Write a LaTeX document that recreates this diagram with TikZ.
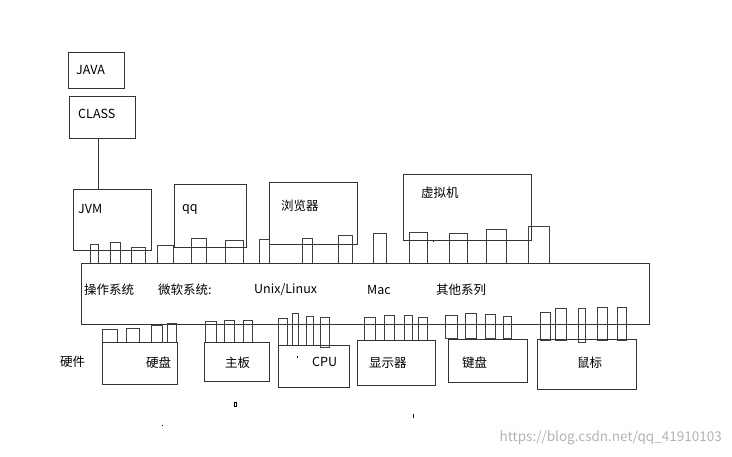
\documentclass[tikz,border=0pt]{standalone}
\usepackage{fontspec}
\setmainfont{Noto Sans CJK SC}
\begin{document}
\begin{tikzpicture}[x=1pt,y=-1pt,
  bx/.style={draw=black!80,line width=0.8pt},
  pin/.style={draw=black!75,line width=0.8pt},
  lb/.style={font=\fontsize{12.5}{14}\selectfont,inner sep=0pt,anchor=west}]
\useasboundingbox (0,0) rectangle (732,457);
% upper boxes
\draw[bx] (68,52) rectangle (124,88);
\draw[bx] (69,96) rectangle (135,138);
\coordinate (ct) at (98,138); \coordinate (cb) at (98,189);
\draw[bx] (ct) -- (cb);
\draw[bx] (73,189) rectangle (151,250);
\draw[bx] (174,184) rectangle (246,247);
\draw[bx] (269,182) rectangle (357,244);
\draw[bx] (403,174) rectangle (531,240);
% top pins
\foreach \a/\b/\t in {90/98/244,110/120/242,131/145/247,157/173/245,191/206/238,225/243/240,259/269/239,302/312/238,338/352/235,373/386/233,409/427/232,449/467/233,486/506/229,528/549/226}
  \draw[pin] (\a,263) rectangle (\b,\t);
% main box
\draw[bx,fill=white] (81,263) rectangle (649,324);
% bottom pins
\foreach \a/\b/\t/\u in {102/117/329/342,126/139/328/342,151/162/325/342,167/176/323/342,205/216/321/342,224/234/320/342,243/252/320/342,278/287/318/345,292/298/313/345,306/313/316/345,320/329/317/347,364/375/317/340,384/394/315/340,404/412/315/340,418/427/317/340,445/457/315/338,465/476/313/338,485/495/314/338,503/511/316/338,540/550/312/340,555/566/308/340,578/585/308/342,597/607/307/340,617/626/307/340}
  \draw[pin] (\a,\u) rectangle (\b,\t);
% bottom boxes
\draw[bx] (102,342) rectangle (177,384);
\draw[bx] (204,342) rectangle (269,381);
\draw[bx] (278,345) rectangle (349,387);
\draw[bx] (357,340) rectangle (435,385);
\draw[bx] (448,339) rectangle (527,382);
\draw[bx] (537,339) rectangle (636,389);
% labels
\node[lb] (t1) at (76,70) {JAVA};
\node[lb] (t2) at (78,114) {CLASS};
\node[lb] (t3) at (78,209) {JVM};
\node[lb] (t4) at (182,209) {qq};
\node[lb] (t5) at (281,206) {浏览器};
\node[lb] (t6) at (421,193) {虚拟机};
\node[lb] (m1) at (84,290) {操作系统};
\node[lb] (m2) at (158,290) {微软系统:};
\node[lb] (m3) at (254,290) {Unix/Linux};
\node[lb] (m4) at (367,290) {Mac};
\node[lb] (m5) at (436,290) {其他系列};
\node[lb] (h0) at (60,362) {硬件};
\node[lb] (h1) at (146,363) {硬盘};
\node[lb] (h2) at (225,363) {主板};
\node[lb] (h3) at (312,362) {CPU};
\node[lb] (h4) at (369,363) {显示器};
\node[lb] (h5) at (462,363) {键盘};
\node[lb] (h6) at (577,363) {鼠标};
% stray marks
\fill (296.5,356.5) rectangle (298,358);
\fill (432.5,241.5) rectangle (433.5,242.5);
\draw[line width=0.6pt] (234,402.5) rectangle (236.5,406);
\fill (412.5,414) rectangle (413.5,418);
\fill (161.5,425.5) rectangle (162.5,426.5);
\node[lb,text=black!30,font=\fontsize{13.5}{15}\selectfont,anchor=east] (wm) at (722,438) {https://blog.csdn.net/qq\_41910103};
\end{tikzpicture}
\end{document}
